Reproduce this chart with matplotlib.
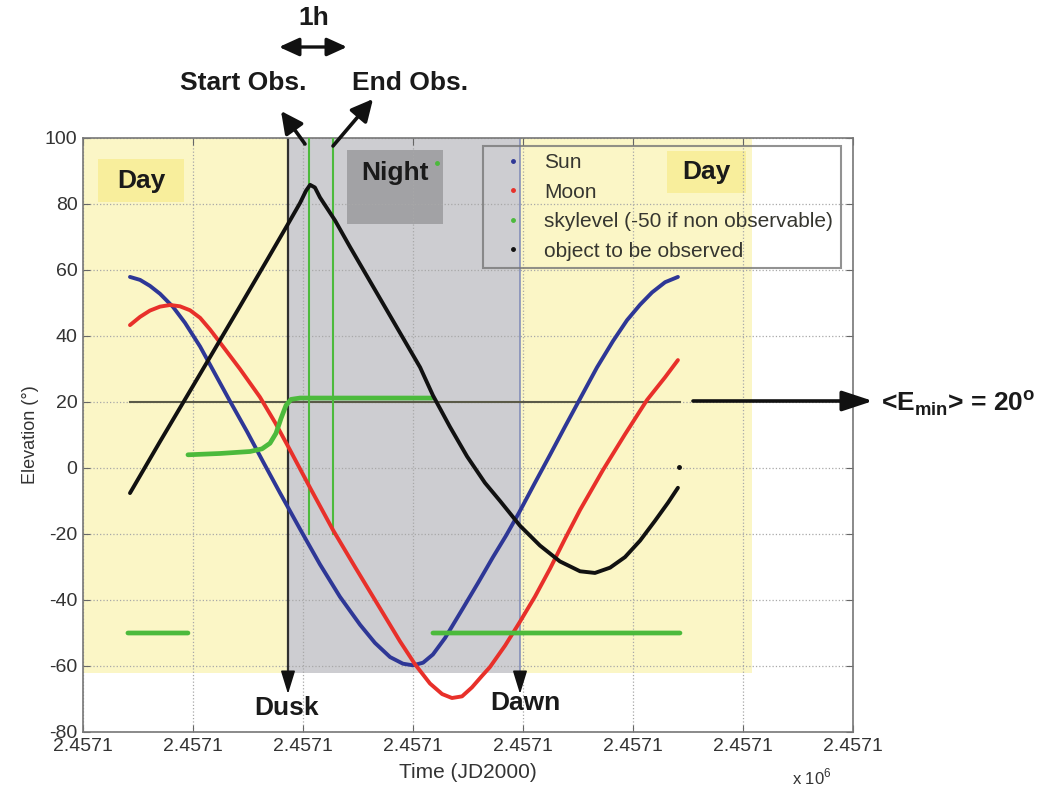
"""Sun, Moon, sky level and target elevation over one observing night."""
import matplotlib

matplotlib.use("Agg")
import matplotlib.pyplot as plt
from matplotlib.lines import Line2D
from matplotlib.patches import Rectangle
import numpy as np

plt.rcParams["font.family"] = ["Liberation Sans", "DejaVu Sans"]
plt.rcParams["axes.unicode_minus"] = False

# time axis: hours after the left edge of the plot
JD_START = 2457100.25
TICK_STEP_H = 4.8
N_TICKS = 8

sun_h = [2.05, 2.49, 2.92, 3.36, 3.93, 4.45, 5.11, 5.67, 6.41, 7.16, 7.85, 8.60, 9.47,
         10.34, 11.21, 12.09, 12.74, 13.40, 13.96, 14.40, 14.84, 15.27, 15.80, 16.58,
         17.24, 17.89, 18.46, 19.03, 19.72, 20.38, 21.03, 21.69, 22.43, 23.13, 23.74,
         24.31, 24.83, 25.40, 25.96]
sun_el = [57.9, 57.0, 55.2, 52.8, 48.8, 44.0, 36.8, 29.7, 20.3, 11.0, 2.0, -7.6, -18.5,
          -29.2, -39.0, -47.5, -53.0, -57.3, -59.3, -59.8, -59.0, -56.5, -51.5, -42.5,
          -34.8, -27.0, -20.5, -13.5, -4.5, 4.0, 12.5, 21.0, 30.5, 38.5, 44.8,
          49.5, 53.2, 56.3, 57.9]

moon_h = [2.05, 2.49, 2.92, 3.36, 3.80, 4.23, 4.67, 5.11, 5.54, 5.98, 6.85, 7.72, 8.38,
          9.03, 9.91, 10.91, 11.87, 12.96, 13.83, 14.49, 15.14, 15.67, 16.10, 16.54,
          16.97, 17.41, 17.76, 18.42, 19.03, 19.72, 20.38, 21.03, 21.69, 22.69, 23.65,
          24.61, 25.40, 25.96]
moon_el = [43.3, 45.8, 47.7, 48.9, 49.4, 49.0, 47.8, 45.5, 42.0, 38.0, 30.0, 21.5, 13.8,
           5.5, -6.0, -18.8, -30.0, -42.5, -52.5, -59.5, -65.3, -68.5, -69.7, -69.2,
           -66.5, -63.0, -60.3, -53.8, -47.0, -39.0, -30.5, -21.5, -12.7, -0.6, 10.2,
           20.6, 27.5, 32.7]

obj_h = [2.05, 3.36, 5.11, 6.85, 8.03, 8.95, 9.47, 9.73, 9.91, 10.12, 10.34, 11.00,
         11.65, 12.74, 13.83, 14.71, 15.27, 16.01, 16.76, 17.54, 18.20, 19.07, 19.94,
         20.81, 21.69, 22.34, 23.00, 23.65, 24.31, 24.96, 25.53, 25.96]
obj_el = [-7.6, 8.0, 28.5, 49.0, 63.0, 74.0, 80.3, 84.0, 85.8, 85.0, 82.0, 75.0,
          67.0, 54.0, 41.0, 30.5, 22.0, 12.5, 3.5, -4.5, -10.0, -17.5, -23.5,
          -28.3, -31.3, -31.8, -30.2, -27.0, -22.0, -16.0, -10.5, -6.0]

# skylevel, -50 where the target can not be observed (nan = break in the line)
sky_h = [1.96, 4.58, np.nan, 4.58, 5.98, 7.29, 7.81, 8.16, 8.42, 8.64, 8.86, 9.08, 9.47,
         15.23, np.nan, 15.27, 26.05]
sky_el = [-50, -50, np.nan, 4.0, 4.4, 5.0, 5.8, 7.5, 10.5, 15.0, 19.0, 20.8, 21.2,
          21.2, np.nan, -50, -50]
sky_stray_h, sky_stray_el = 15.45, 92.4
obj_stray_h, obj_stray_el = 26.0, 0.3

e_min = 20
e_min_span_h = (2.05, 26.05)
dusk_h, dawn_h = 8.95, 19.05
obs_start_h, obs_end_h = 9.86, 10.89
obs_line_bottom = -20
day_end_h = 29.19
shade_bottom = -62

SUN_C, MOON_C, SKY_C, OBJ_C = "#2e3796", "#e8302a", "#4cba3c", "#111111"


def jd(h):
    return JD_START + np.asarray(h, dtype=float) / 24.0


def fpx(px, py):
    """Reference pixel (origin top left) -> figure pixels."""
    return (px, 794 - py)


fig = plt.figure(figsize=(10.46, 7.94), dpi=100)
ax = fig.add_axes([83 / 1046, 1 - 732 / 794, 770 / 1046, 594 / 794])

x0, x1 = jd(0), jd(TICK_STEP_H * (N_TICKS - 1))
ax.set_xlim(x0, x1)
ax.set_ylim(-80, 100)

# day / night shading
yellow = "#fbf6c6"
ax.add_patch(Rectangle((x0, shade_bottom), jd(dusk_h) - x0, 100 - shade_bottom,
                       facecolor=yellow, edgecolor="none", zorder=0))
ax.add_patch(Rectangle((jd(dusk_h), shade_bottom), jd(dawn_h) - jd(dusk_h), 100 - shade_bottom,
                       facecolor="#cdcdd1", edgecolor="none", zorder=0))
ax.add_patch(Rectangle((jd(dawn_h), shade_bottom), jd(day_end_h) - jd(dawn_h), 100 - shade_bottom,
                       facecolor=yellow, edgecolor="none", zorder=0))

ax.grid(True, linestyle=":", color="#a8a8a8", linewidth=0.9, zorder=0.5)

# label boxes
for (h0, h1, y0, y1, ty, fc, label) in [
    (0.65, 4.41, 80.6, 93.6, 87.0, "#f8ee9c", "Day"),
    (25.48, 28.93, 83.3, 96.1, 89.7, "#f8ee9c", "Day"),
    (11.52, 15.71, 73.9, 96.4, 89.5, "#a2a2a5", "Night"),
]:
    ax.add_patch(Rectangle((jd(h0), y0), jd(h1) - jd(h0), y1 - y0,
                           facecolor=fc, edgecolor="none", zorder=0.6))
    ax.text(jd((h0 + h1) / 2), ty, label, ha="center", va="center",
            fontsize=19, fontweight="bold", color="#1a1a1a", zorder=5)

# dusk / dawn boundaries and observation window
ax.plot([jd(dusk_h)] * 2, [shade_bottom, 100], color="#303030", lw=1.6, zorder=2)
ax.plot([jd(dawn_h)] * 2, [shade_bottom, 100], color="#7d88b8", lw=1.1, zorder=2)
for h in (obs_start_h, obs_end_h):
    ax.plot([jd(h)] * 2, [obs_line_bottom, 100], color=SKY_C, lw=1.5, zorder=3)

ax.plot(jd(e_min_span_h), [e_min, e_min], color="#5a5a48", lw=1.5, zorder=2)

line_kw = dict(lw=2.8, zorder=4, solid_capstyle="round", solid_joinstyle="round")
ax.plot(jd(sun_h), sun_el, color=SUN_C, **line_kw)
ax.plot(jd(moon_h), moon_el, color=MOON_C, **line_kw)
ax.plot(jd(sky_h), sky_el, color=SKY_C, lw=3.4, zorder=4, solid_capstyle="round",
        solid_joinstyle="round")
ax.plot(jd(obj_h), obj_el, color=OBJ_C, **line_kw)
ax.plot(jd(sky_stray_h), sky_stray_el, "o", color=SKY_C, ms=2.5, zorder=4)
ax.plot(jd(obj_stray_h), obj_stray_el, "o", color=OBJ_C, ms=2.5, zorder=4)

# axes styling (matlab-like)
ticks = jd(np.arange(N_TICKS) * TICK_STEP_H)
ax.set_xticks(ticks)
ax.set_xticklabels([f"{t / 1e6:.4f}" for t in ticks])
ax.set_yticks(np.arange(-80, 101, 20))
ax.tick_params(direction="in", length=5, color="#666666", labelsize=14,
               labelcolor="#333333", top=True, right=True, pad=4)
for s in ax.spines.values():
    s.set_color("#777777")
    s.set_linewidth(1.2)
ax.set_xlabel("Time (JD2000)", fontsize=15, color="#333333", labelpad=6)
ax.set_ylabel("Elevation (°)", fontsize=13, color="#333333", labelpad=4)
fig.text(812 / 1046, 1 - 777 / 794, r"x 10$^{\mathregular{6}}$", fontsize=12,
         color="#333333", ha="center", va="center")

handles = [Line2D([], [], marker="o", ms=2.5, ls="none", color=c)
           for c in (SUN_C, MOON_C, SKY_C, OBJ_C)]
leg = ax.legend(handles, ["Sun", "Moon", "skylevel (-50 if non observable)", "object to be observed"],
                loc="upper left", bbox_to_anchor=(483 / 1046, 1 - 146 / 794),
                bbox_transform=fig.transFigure, fontsize=15, labelcolor="#363630",
                frameon=True, fancybox=False, handlelength=2.2, handletextpad=0.4,
                labelspacing=0.5, borderpad=0.35, borderaxespad=0)
leg.get_frame().set_facecolor("none")
leg.get_frame().set_edgecolor("#777777")
leg.get_frame().set_linewidth(1.5)
leg.set_zorder(6)

# annotations outside / on top of the axes
bold = dict(fontsize=19, fontweight="bold", color="#1a1a1a", ha="center", va="center")
fig.text(314 / 1046, 1 - 18 / 794, "1h", **bold)
fig.text(243 / 1046, 1 - 83 / 794, "Start Obs.", **bold)
fig.text(410 / 1046, 1 - 83 / 794, "End Obs.", **bold)
fig.text(287 / 1046, 1 - 708 / 794, "Dusk", **bold)
fig.text(525 / 1046, 1 - 703 / 794, "Dawn", **bold)
fig.text(958 / 1046, 1 - 403 / 794, r"<E$_{\mathregular{min}}$> = 20$^{\mathregular{o}}$", **bold)

arrows = [
    ((305, 144), (281, 111), "-|>,head_length=0.6,head_width=0.3", 2.6),
    ((333, 146), (373, 99), "-|>,head_length=0.6,head_width=0.3", 2.6),
    ((288, 675), (288, 694), "-|>,head_length=0.65,head_width=0.2", 1.2),
    ((520, 675), (520, 694), "-|>,head_length=0.65,head_width=0.2", 1.2),
    ((693, 401), (873, 401), "-|>,head_length=0.85,head_width=0.28", 2.6),
    ((279, 47), (347, 47), "<|-|>,head_length=0.55,head_width=0.25", 2.4),
]
for tail, head, style, lw in arrows:
    ax.annotate("", xy=fpx(*head), xytext=fpx(*tail), xycoords="figure pixels",
                textcoords="figure pixels",
                arrowprops=dict(arrowstyle=style, color="#111111", lw=lw, mutation_scale=22,
                                shrinkA=0, shrinkB=0),
                annotation_clip=False, zorder=7)

fig.savefig("out.png", dpi=100)
